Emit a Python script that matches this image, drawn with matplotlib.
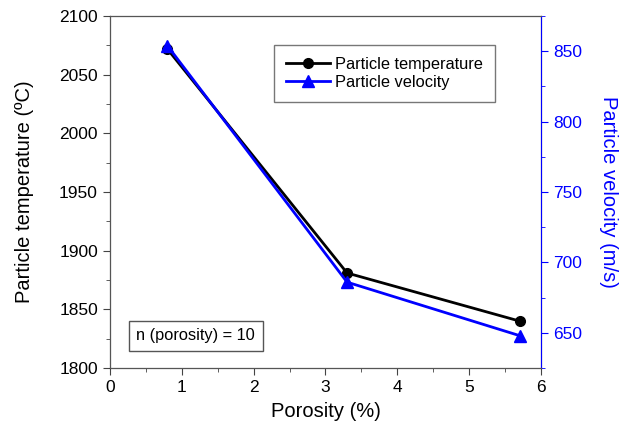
import matplotlib.pyplot as plt
from matplotlib.ticker import MultipleLocator

plt.rcParams['font.family'] = ['Liberation Sans', 'DejaVu Sans']

porosity = [0.8, 3.3, 5.7]
temperature = [2072, 1881, 1840]
velocity = [854, 686, 648]

fig = plt.figure(figsize=(6.2, 4.33), dpi=100)
ax = fig.add_axes([0.177, 0.150, 0.696, 0.813])
ax2 = ax.twinx()

l1, = ax.plot(porosity, temperature, color='black', lw=2, marker='o', ms=7,
              label='Particle temperature')
l2, = ax2.plot(porosity, velocity, color='blue', lw=2, marker='^', ms=8,
               label='Particle velocity')

ax.set_xlim(0, 6)
ax.set_ylim(1800, 2100)
ax2.set_ylim(625, 875)

ax.xaxis.set_major_locator(MultipleLocator(1))
ax.xaxis.set_minor_locator(MultipleLocator(0.5))
ax.yaxis.set_major_locator(MultipleLocator(50))
ax.yaxis.set_minor_locator(MultipleLocator(25))
ax2.yaxis.set_major_locator(MultipleLocator(50))
ax2.yaxis.set_minor_locator(MultipleLocator(25))

ax.tick_params(which='both', direction='out', top=False, right=False,
               labelsize=12.5, color='#444444')
ax.tick_params(which='major', length=5)
ax.tick_params(which='minor', length=3)
ax2.tick_params(which='both', direction='out', colors='blue', labelsize=12.5)
ax2.tick_params(which='major', length=5)
ax2.tick_params(which='minor', length=3)

for s in ['left', 'bottom', 'top']:
    ax2.spines[s].set_color('#555555')
ax2.spines['right'].set_color('blue')

ax.set_xlabel('Porosity (%)', fontsize=14.5, labelpad=5)
ax.set_ylabel('Particle temperature (ºC)', fontsize=14.5, labelpad=18)
ax2.set_ylabel('Particle velocity (m/s)', fontsize=14.5, color='blue',
               rotation=270, labelpad=26)

leg = ax2.legend([l1, l2], [l1.get_label(), l2.get_label()],
                 loc='upper left', bbox_to_anchor=(0.38, 0.918),
                 fontsize=11.8, frameon=True, fancybox=False,
                 edgecolor='#555555', handlelength=2.7, handletextpad=0.3,
                 borderpad=0.75, labelspacing=0.15, borderaxespad=0)
leg.get_frame().set_linewidth(1.0)

ax.text(0.062, 0.092, 'n (porosity) = 10', transform=ax.transAxes,
        fontsize=11.8, va='center', ha='left',
        bbox=dict(boxstyle='square,pad=0.45', fc='white', ec='#555555'))

fig.savefig('out.png', dpi=100)
